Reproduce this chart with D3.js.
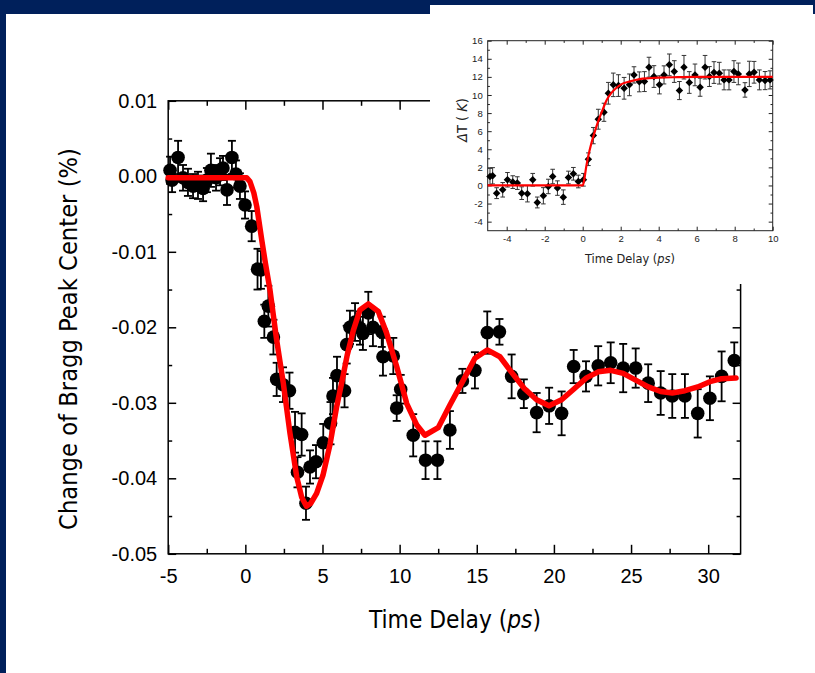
<!DOCTYPE html>
<html><head><meta charset="utf-8">
<script src="https://cdn.jsdelivr.net/npm/d3@7"></script>
<style>html,body{margin:0;padding:0;background:#00205b;} svg{display:block}</style>
</head><body>
<svg id="c" width="815" height="673"></svg>
<script>
// ---------- main chart data ----------
const mainT = [-4.88,-4.75,-4.36,-4.04,-3.72,-3.39,-3.07,-2.74,-2.49,-2.23,-1.90,-1.64,-1.45,-1.19,-0.87,-0.61,-0.35,-0.02,
  0.41,0.79,1.01,1.23,1.49,1.82,2.03,2.44,2.86,3.22,3.38,3.65,3.93,4.19,4.58,5.05,5.52,5.68,5.94,6.43,6.57,6.78,7.11,7.43,7.62,7.97,8.27,8.84,8.92,9.59,9.81,10.07,10.88,11.68,12.45,13.26,14.07,14.88,15.68,16.47,17.26,18.05,18.88,19.69,20.50,21.28,22.08,22.87,23.68,24.49,25.30,26.11,26.92,27.67,28.49,29.32,30.11,30.87,31.69];
const mainV = [0.0008,-0.0005,0.0025,-0.0002,-0.0008,-0.0013,-0.0012,-0.0016,-0.0005,0.0008,-0.0002,0.0006,0.0011,-0.0018,0.0025,0.0003,-0.0013,-0.0038,
  -0.0066,-0.0123,-0.0124,-0.0192,-0.0172,-0.0213,-0.0269,-0.0276,-0.0284,-0.0339,-0.0392,-0.0342,-0.0433,-0.0385,-0.0378,-0.0353,-0.0327,-0.0291,-0.0264,-0.0284,-0.0223,-0.0200,-0.0193,-0.0201,-0.0208,-0.0181,-0.0200,-0.0206,-0.0239,-0.0238,-0.0307,-0.0282,-0.0343,-0.0376,-0.0376,-0.0336,-0.0271,-0.0257,-0.0207,-0.0206,-0.0265,-0.0288,-0.0313,-0.0304,-0.0314,-0.0252,-0.0265,-0.0251,-0.0247,-0.0254,-0.0254,-0.0274,-0.0287,-0.0291,-0.0291,-0.0314,-0.0294,-0.0265,-0.0244];
const mainErr = [0.0018,0.0016,0.0022,0.0017,0.0018,0.0016,0.0018,0.0017,0.0016,0.0022,0.0017,0.0018,0.0016,0.0020,0.0022,0.0018,0.0017,0.0018,
  0.0020,0.0027,0.0025,0.0022,0.0027,0.0023,0.0022,0.0023,0.0024,0.0027,0.0020,0.0028,0.0022,0.0022,0.0022,0.0025,0.0028,0.0024,0.0025,0.0022,0.0025,0.0022,0.0025,0.0022,0.0022,0.0028,0.0025,0.0020,0.0025,0.0024,0.0017,0.0019,0.0028,0.0025,0.0025,0.0025,0.0016,0.0024,0.0028,0.0017,0.0029,0.0019,0.0026,0.0024,0.0029,0.0022,0.0020,0.0026,0.0027,0.0032,0.0026,0.0025,0.0029,0.0029,0.0029,0.0032,0.0029,0.0033,0.0024];
const fitT = [-5,0.09,0.3,0.55,0.74,1.06,1.3,1.6,2.03,2.46,2.89,3.33,3.65,3.96,4.25,4.62,5.03,5.49,5.92,6.33,6.6,7.0,7.43,7.97,8.62,9.16,9.81,10.46,11.1,11.64,12.5,13.26,14.13,14.88,15.68,16.5,17.31,18.08,18.88,19.68,20.5,21.28,22.11,22.87,23.68,24.49,25.3,26.12,26.92,27.67,28.49,29.32,30.11,30.87,31.8];
const fitV = [-0.0002,-0.0002,-0.0007,-0.0022,-0.0040,-0.0084,-0.0115,-0.0151,-0.0217,-0.0274,-0.0340,-0.0398,-0.0425,-0.0437,-0.0433,-0.0420,-0.0396,-0.0355,-0.0305,-0.0265,-0.0237,-0.0204,-0.0177,-0.0169,-0.0179,-0.0208,-0.0252,-0.0301,-0.0329,-0.0343,-0.0333,-0.0303,-0.0270,-0.0241,-0.0230,-0.0239,-0.0261,-0.0281,-0.0296,-0.0304,-0.0296,-0.0282,-0.0267,-0.0259,-0.0257,-0.0261,-0.0270,-0.0279,-0.0285,-0.0287,-0.0284,-0.0279,-0.0272,-0.0268,-0.0267];
const mainXTicks = [-5,0,5,10,15,20,25,30];
const mainXLabels = ["-5","0","5","10","15","20","25","30"];
const mainXMinor = [-2.5,2.5,7.5,12.5,17.5,22.5,27.5];
const mainYTicks = [0.01,0,-0.01,-0.02,-0.03,-0.04,-0.05];
const mainYLabels = ["0.01","0.00","-0.01","-0.02","-0.03","-0.04","-0.05"];
const mainYMinor = [0.005,-0.005,-0.015,-0.025,-0.035,-0.045];

// ---------- inset data ----------
const insetT = [-4.88,-4.74,-4.53,-4.21,-3.96,-3.68,-3.44,-3.21,-2.91,-2.63,-2.39,-2.07,-1.81,-1.58,-1.33,-1.02,-0.75,-0.49,-0.23,0.04,0.30,0.56,0.82,1.12,1.35,1.61,1.88,2.18,2.46,2.70,2.98,3.25,3.49,3.75,4.04,4.28,4.56,4.82,5.09,5.33,5.61,5.91,6.18,6.44,6.67,6.91,7.19,7.44,7.70,7.96,8.19,8.54,8.77,9.02,9.30,9.60,9.86];
const insetV = [0.99,1.07,-0.85,-0.48,0.63,0.37,0.26,-0.85,-0.92,0.63,-1.88,-1.14,-0.11,0.99,-0.29,-1.29,0.88,1.29,0.44,0.63,2.90,5.51,7.32,8.09,10.19,11.12,11.04,10.74,11.12,12.22,11.45,11.48,13.07,12.04,11.12,12.22,13.33,12.59,10.49,13.07,11.38,12.22,10.86,13.07,12.04,12.48,12.41,11.67,11.67,12.59,12.33,10.56,12.33,12.51,11.67,11.59,11.67];
const insetErr = [0.9,0.9,0.6,0.8,0.8,0.7,0.7,0.7,0.9,0.7,0.6,0.9,0.8,0.8,0.8,0.8,0.7,0.7,0.7,0.7,0.7,0.9,1.1,1.0,1.2,1.3,1.2,1.2,1.2,0.9,1.1,1.1,1.1,1.2,1.0,1.0,1.2,1.2,1.0,1.3,1.2,1.2,1.0,1.3,1.1,1.2,1.2,1.1,1.1,1.2,1.2,0.8,1.4,1.2,1.1,1.0,1.0];
const insetFitT = [-5,0,0.08,0.18,0.3,0.45,0.6,0.8,1.0,1.25,1.5,1.75,2.0,2.5,3.0,3.5,4.0,5.0,6.0,8.0,10.0];
const insetFitV = [0,0,0.6,2.0,3.3,4.6,5.7,7.0,8.1,9.4,10.2,10.75,11.15,11.5,11.75,11.85,11.92,11.97,12.0,12.0,12.0];
const insetXTicks = [-4,-2,0,2,4,6,8,10];
const insetXLabels = ["-4","-2","0","2","4","6","8","10"];
const insetXMinor = [-3,-1,1,3,5,7,9];
const insetYTicks = [-4,-2,0,2,4,6,8,10,12,14,16];
const insetYLabels = ["-4","-2","0","2","4","6","8","10","12","14","16"];
const insetYMinor = [-3,-1,1,3,5,7,9,11,13,15];

// ---------- drawing ----------
const W = 815, H = 673;
const svg = d3.select('#c');
svg.append('rect').attr('width', W).attr('height', H).attr('fill', '#00205b');
svg.append('rect').attr('x', 6).attr('y', 14).attr('width', W - 6).attr('height', H - 14).attr('fill', '#fff');

const TICKFONT = "'Liberation Sans', Arial, sans-serif";
const TITLEFONT = "'DejaVu Sans Condensed', 'DejaVu Sans', sans-serif";

function styleAxis(g, font, size, color, sw) {
  g.select('.domain').remove();
  g.selectAll('.tick line').attr('stroke', color).attr('stroke-width', sw);
  g.selectAll('.tick text').attr('font-family', font).attr('font-size', size).attr('fill', color);
}

function drawFrame(root, x, y, o) {
  const [x0, x1] = x.range(), [y0, y1] = y.range(); // y0 bottom, y1 top
  const noLab = () => '';
  const defs = [
    ['b', d3.axisBottom, x, y0, true], ['t', d3.axisTop, x, y1, false],
    ['l', d3.axisLeft, y, x0, true], ['r', d3.axisRight, y, x1, false]
  ];
  defs.forEach(([k, fn, sc, pos, lab]) => {
    const horiz = (k === 'b' || k === 't');
    const maj = horiz ? o.xTicks : o.yTicks, mnr = horiz ? o.xMinor : o.yMinor;
    const labels = horiz ? o.xLabels : o.yLabels;
    const majLen = horiz ? o.xMajLen : o.yMajLen, minLen = horiz ? o.xMinLen : o.yMinLen;
    const tr = horiz ? `translate(0,${pos})` : `translate(${pos},0)`;
    const gMaj = root.append('g').attr('transform', tr).call(
      fn(sc).tickValues(maj).tickSizeInner(-majLen).tickSizeOuter(0)
        .tickPadding(horiz ? o.xPad : o.yPad)
        .tickFormat(lab ? ((d, i) => labels[i]) : noLab));
    styleAxis(gMaj, TICKFONT, o.fontSize, o.color, o.sw);
    const gMin = root.append('g').attr('transform', tr).call(
      fn(sc).tickValues(mnr).tickSizeInner(-minLen).tickSizeOuter(0).tickFormat(noLab));
    styleAxis(gMin, TICKFONT, o.fontSize, o.color, o.sw);
  });
  root.append('rect').attr('x', x0).attr('y', y1).attr('width', x1 - x0).attr('height', y0 - y1)
    .attr('fill', 'none').attr('stroke', o.color).attr('stroke-width', o.sw);
}

function fitText(t, target) {
  const n = t.node();
  const w = n.getComputedTextLength();
  if (w > 0) {
    const fs = parseFloat(t.attr('font-size'));
    t.attr('font-size', (fs * target / w).toFixed(2));
  }
}

// ===== main chart =====
const x = d3.scaleLinear().domain([-5, 32.1]).range([168.2, 740.6]);
const y = d3.scaleLinear().domain([-0.05, 0.01]).range([553.8, 100.8]);
const main = svg.append('g');

drawFrame(main, x, y, {
  xTicks: mainXTicks, xLabels: mainXLabels, xMinor: mainXMinor,
  yTicks: mainYTicks, yLabels: mainYLabels, yMinor: mainYMinor,
  xMajLen: 9, xMinLen: 5, yMajLen: 8, yMinLen: 4, xPad: 15, yPad: 11,
  fontSize: 20, color: '#000', sw: 1.5
});

const mainData = mainT.map((t, i) => ({t, v: mainV[i], e: mainErr[i] ?? 0.0025}));
const eb = main.append('g').attr('stroke', '#000').attr('stroke-width', 1.8);
mainData.forEach(d => {
  const cx = x(d.t), ya = y(d.v + d.e), yb = y(d.v - d.e);
  eb.append('line').attr('x1', cx).attr('x2', cx).attr('y1', ya).attr('y2', yb);
  eb.append('line').attr('x1', cx - 4).attr('x2', cx + 4).attr('y1', ya).attr('y2', ya);
  eb.append('line').attr('x1', cx - 4).attr('x2', cx + 4).attr('y1', yb).attr('y2', yb);
});
main.append('g').selectAll('circle').data(mainData).join('circle')
  .attr('cx', d => x(d.t)).attr('cy', d => y(d.v)).attr('r', 6.8).attr('fill', '#000');

const fitData = fitT.map((t, i) => [t, fitV[i]]);
main.append('path').datum(fitData)
  .attr('d', d3.line().x(d => x(d[0])).y(d => y(d[1])))
  .attr('fill', 'none').attr('stroke', '#f00').attr('stroke-width', 5.5)
  .attr('stroke-linejoin', 'round').attr('stroke-linecap', 'round');

// axis titles
const xt = main.append('text').attr('x', 455).attr('y', 628).attr('text-anchor', 'middle')
  .attr('font-family', TITLEFONT).attr('font-size', 24).attr('fill', '#000');
xt.append('tspan').text('Time Delay (');
xt.append('tspan').attr('font-style', 'italic').text('ps');
xt.append('tspan').text(')');
fitText(xt, 172);

const yt = main.append('text').attr('transform', 'translate(77,339) rotate(-90)').attr('text-anchor', 'middle')
  .attr('font-family', TITLEFONT).attr('font-size', 24).attr('fill', '#000')
  .text('Change of Bragg Peak Center (%)');
fitText(yt, 382);

// ===== inset =====
svg.append('rect').attr('x', 430).attr('y', 5).attr('width', 383).attr('height', 279).attr('fill', '#fff');
const xi = d3.scaleLinear().domain([-5, 10]).range([487.7, 772.7]);
const yi = d3.scaleLinear().domain([-5, 16]).range([230.7, 40.7]);
const ins = svg.append('g');

drawFrame(ins, xi, yi, {
  xTicks: insetXTicks, xLabels: insetXLabels, xMinor: insetXMinor,
  yTicks: insetYTicks, yLabels: insetYLabels, yMinor: insetYMinor,
  xMajLen: 4, xMinLen: 2.2, yMajLen: 4, yMinLen: 2.2, xPad: 5, yPad: 5,
  fontSize: 9.5, color: '#222', sw: 1
});

const insData = insetT.map((t, i) => ({t, v: insetV[i], e: insetErr[i] ?? 1}));
const ebi = ins.append('g').attr('stroke', '#333').attr('stroke-width', 1);
insData.forEach(d => {
  const cx = xi(d.t), ya = yi(d.v + d.e), yb = yi(d.v - d.e);
  ebi.append('line').attr('x1', cx).attr('x2', cx).attr('y1', ya).attr('y2', yb);
  ebi.append('line').attr('x1', cx - 2.3).attr('x2', cx + 2.3).attr('y1', ya).attr('y2', ya);
  ebi.append('line').attr('x1', cx - 2.3).attr('x2', cx + 2.3).attr('y1', yb).attr('y2', yb);
});
ins.append('g').selectAll('path').data(insData).join('path')
  .attr('d', d3.symbol(d3.symbolSquare, 28)())
  .attr('transform', d => `translate(${xi(d.t)},${yi(d.v)}) rotate(45)`)
  .attr('fill', '#000');

const insFit = insetFitT.map((t, i) => [t, insetFitV[i]]);
ins.append('path').datum(insFit)
  .attr('d', d3.line().x(d => xi(d[0])).y(d => yi(d[1])).curve(d3.curveMonotoneX))
  .attr('fill', 'none').attr('stroke', '#f00').attr('stroke-width', 2.2);

const ixt = ins.append('text').attr('x', 630).attr('y', 263).attr('text-anchor', 'middle')
  .attr('font-family', TITLEFONT).attr('font-size', 11.5).attr('fill', '#222');
ixt.append('tspan').text('Time Delay (');
ixt.append('tspan').attr('font-style', 'italic').text('ps');
ixt.append('tspan').text(')');
fitText(ixt, 90);

const iyt = ins.append('text').attr('transform', 'translate(467,120) rotate(-90)').attr('text-anchor', 'middle')
  .attr('font-family', TITLEFONT).attr('font-size', 11.5).attr('fill', '#222');
iyt.append('tspan').attr('font-style', 'italic').text('Δ');
iyt.append('tspan').text('T ( ');
iyt.append('tspan').attr('font-style', 'italic').text('K');
iyt.append('tspan').text(')');
fitText(iyt, 44);
</script>
</body></html>
